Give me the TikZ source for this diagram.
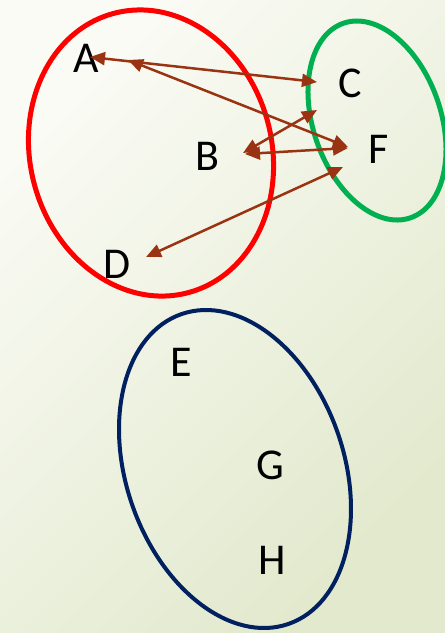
\documentclass[tikz,border=0pt]{standalone}
\usepackage{fontspec}
\setmainfont{Carlito}
\usetikzlibrary{arrows.meta,shapes.geometric}

\definecolor{bgLight}{RGB}{250,251,245}
\definecolor{bgDark}{RGB}{226,233,205}
\definecolor{setRed}{RGB}{255,0,0}
\definecolor{setGreen}{RGB}{0,176,80}
\definecolor{setNavy}{RGB}{0,32,96}
\definecolor{linkBrown}{RGB}{153,51,17}

\tikzset{
  ring/.style={draw=#1, ellipse, inner sep=0pt, outer sep=0pt, line width=5pt},
  letter/.style={inner sep=0pt, font=\fontsize{44}{44}\selectfont},
  link/.style={draw=linkBrown, line width=2.5pt,
    {Triangle[length=15pt,width=13pt]}-{Triangle[length=15pt,width=13pt]}}
}

\begin{document}
\begin{tikzpicture}[x=1pt, y=-1pt]
  \useasboundingbox (0,0) rectangle (445,633);
  \shade[top color=bgLight, bottom color=bgDark, shading angle=45] (0,0) rectangle (445,633);

  % the three sets
  \node[ring=setRed, minimum width=241.6pt, minimum height=289pt, rotate=15] (setR) at (151,153) {};
  \node[ring=setGreen, minimum width=127.6pt, minimum height=205.8pt, rotate=19] (setG) at (377,120.5) {};
  \node[ring=setNavy, line width=4pt, minimum width=217.8pt, minimum height=327.8pt, rotate=19] (setB) at (235,469) {};

  % elements
  \node[letter] (A) at (86,58) {A};
  \node[letter] (B) at (207.5,156) {B};
  \node[letter] (C) at (350,83) {C};
  \node[letter] (D) at (117.5,264) {D};
  \node[letter] (F) at (379,149) {F};
  \node[letter] (E) at (181,362) {E};
  \node[letter] (G) at (270,465) {G};
  \node[letter] (H) at (272,560) {H};

  % arrow end points beside the letters
  \coordinate (a1) at (90,57);
  \coordinate (a2) at (128,60);
  \coordinate (b1) at (243,153);
  \coordinate (b2) at (245,154);
  \coordinate (c1) at (317,82);
  \coordinate (c2) at (317,110);
  \coordinate (d1) at (146,257);
  \coordinate (f1) at (348,147);
  \coordinate (f2) at (348,148);
  \coordinate (f3) at (343,167);

  % relation pairs
  \draw[link] (a1) -- (c1);
  \draw[link] (a2) -- (f1);
  \draw[link] (b1) -- (c2);
  \draw[link] (b2) -- (f2);
  \draw[link] (d1) -- (f3);
\end{tikzpicture}
\end{document}
